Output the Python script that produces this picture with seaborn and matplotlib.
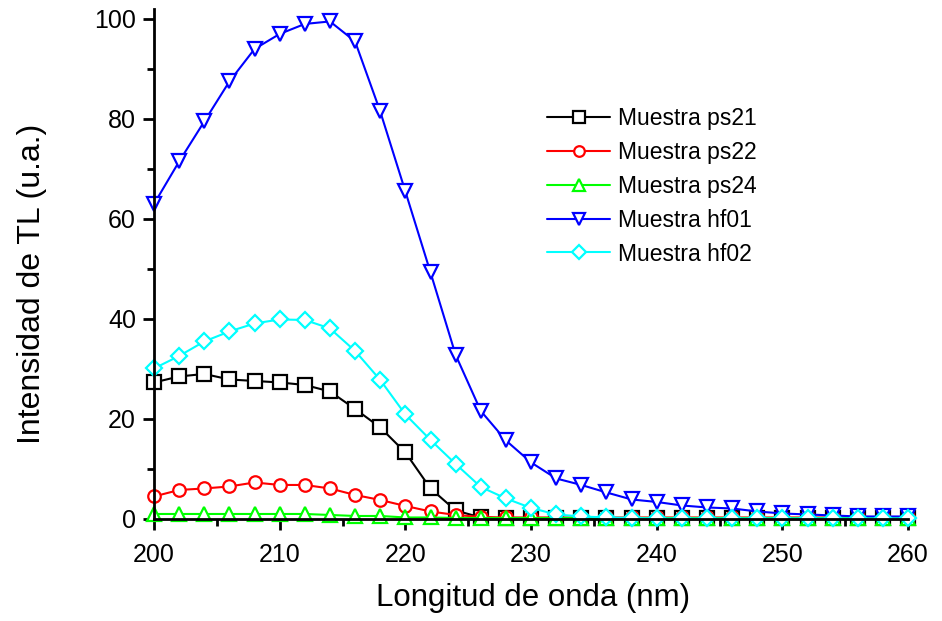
import numpy as np
import pandas as pd
import matplotlib
matplotlib.use('Agg')
import matplotlib.pyplot as plt
import seaborn as sns
from matplotlib.ticker import MultipleLocator

# Wavelength (nm)
wavelength = list(range(200, 262, 2))

# TL intensity per sample
ps21 = [27.3, 28.5, 29.0, 27.9, 27.6, 27.3, 26.8, 25.5, 22.0, 18.3, 13.3, 6.1,
        1.7, 0.3, 0.1, 0.1, 0.1, 0.1, 0.1, 0.1, 0.1, 0.1, 0.1, 0.1, 0.1, 0.1,
        0.1, 0.1, 0.1, 0.1, 0.1]
ps22 = [4.5, 5.8, 6.1, 6.5, 7.3, 6.8, 6.8, 6.1, 4.8, 3.8, 2.6, 1.5,
        0.8, 0.4, 0.3, 0.3, 0.3, 0.3, 0.3, 0.3, 0.3, 0.3, 0.3, 0.3, 0.3, 0.3,
        0.3, 0.3, 0.3, 0.3, 0.3]
ps24 = [1.0, 1.0, 1.0, 1.0, 1.0, 1.0, 1.0, 0.8, 0.6, 0.6, 0.3, 0.3,
        0.2, 0.2, 0.2, 0.2, 0.2, 0.2, 0.2, 0.2, 0.2, 0.2, 0.2, 0.2, 0.2, 0.2,
        0.2, 0.2, 0.2, 0.2, 0.2]
hf01 = [63.0, 71.5, 79.5, 87.5, 94.0, 97.0, 99.0, 99.5, 95.5, 81.5, 65.5, 49.3,
        32.8, 21.6, 15.7, 11.3, 8.1, 6.8, 5.3, 3.9, 3.4, 2.7, 2.3, 2.1, 1.5, 1.1,
        0.9, 0.7, 0.5, 0.5, 0.5]
hf02 = [30.1, 32.6, 35.5, 37.5, 39.1, 39.9, 39.8, 38.1, 33.6, 27.8, 20.9, 15.8,
        11.0, 6.4, 4.1, 2.2, 0.9, 0.5, 0.3, 0.2, 0.1, 0.1, 0.1, 0.1, 0.1, 0.1,
        0.1, 0.1, 0.1, 0.1, 0.1]

labels = ['Muestra ps21', 'Muestra ps22', 'Muestra ps24', 'Muestra hf01', 'Muestra hf02']
series = [ps21, ps22, ps24, hf01, hf02]
colors = ['#000000', '#FF0000', '#00FF00', '#0000FF', '#00FFFF']
markers = ['s', 'o', '^', 'v', 'D']
msizes = [10, 9, 10, 10, 8.5]

sns.set_style('ticks')
plt.rcParams['font.family'] = ['Liberation Sans', 'DejaVu Sans']
plt.rcParams['text.color'] = 'black'
plt.rcParams['axes.labelcolor'] = 'black'
plt.rcParams['xtick.color'] = 'black'
plt.rcParams['ytick.color'] = 'black'
plt.rcParams['axes.edgecolor'] = 'black'

fig = plt.figure(figsize=(9.42, 6.21), dpi=100)
ax = fig.add_axes([0.1635, 0.1643, 0.8005, 0.8213])

for lab, vals, col, mk, ms in zip(labels, series, colors, markers, msizes):
    df = pd.DataFrame({'x': wavelength, 'y': vals})
    sns.lineplot(data=df, x='x', y='y', ax=ax, color=col, marker=mk,
                 markersize=ms, markerfacecolor='white', markeredgecolor=col,
                 markeredgewidth=1.6, linewidth=1.5, label=lab, clip_on=False)

ax.set_xlim(200, 260)
ax.set_ylim(0, 102)
ax.xaxis.set_major_locator(MultipleLocator(10))
ax.xaxis.set_minor_locator(MultipleLocator(5))
ax.set_yticks([0, 20, 40, 60, 80, 100])
ax.yaxis.set_minor_locator(MultipleLocator(10))

for s in ['top', 'right']:
    ax.spines[s].set_visible(False)
for s in ['left', 'bottom']:
    ax.spines[s].set_linewidth(2)

ax.tick_params(which='major', direction='out', length=8, width=2, labelsize=18)
ax.tick_params(axis='x', which='major', pad=9)
ax.tick_params(axis='y', which='major', pad=5)
ax.tick_params(which='minor', direction='out', length=5, width=2)

ax.set_xlabel('Longitud de onda (nm)', fontsize=22.5)
ax.set_ylabel('Intensidad de TL (u.a.)', fontsize=23)
ax.xaxis.set_label_coords(0.503, -0.125)
ax.yaxis.set_label_coords(-0.142, 0.46)

ax.legend(loc='upper left', bbox_to_anchor=(0.581, 0.827), bbox_transform=fig.transFigure,
          frameon=False, fontsize=16.5, handlelength=2.75, handletextpad=0.35,
          labelspacing=0.47, borderpad=0, borderaxespad=0, markerscale=0.85)

fig.savefig('out.png', dpi=100)
